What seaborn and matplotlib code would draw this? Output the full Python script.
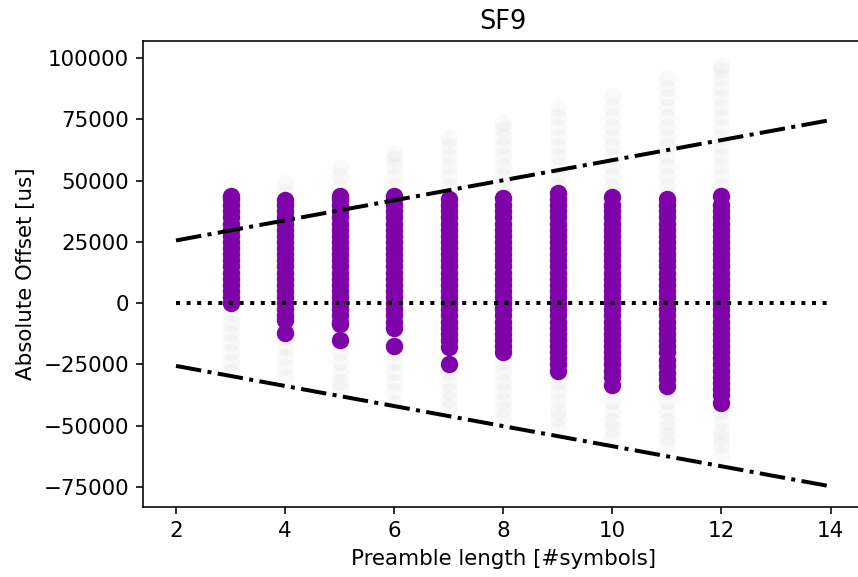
import pandas as pd
import matplotlib
matplotlib.use("Agg")
import matplotlib.pyplot as plt
import seaborn as sns

# preamble lengths with measurements
lengths = [3, 4, 5, 6, 7, 8, 9, 10, 11, 12]

# absolute offsets [us] of received packets (purple) per preamble length
ok_3 = [0, 2500, 5000, 7500, 10000, 12500, 15000, 17500, 20000, 22500, 25000, 27500, 30000, 32500,
        35000, 37500, 40000, 42500, 43800]
ok_4 = [-12100, -7000, -5000, -2500, 0, 2500, 5000, 7500, 10000, 12500, 15000, 17500, 20000, 22500,
        25000, 27500, 30000, 32500, 35000, 37500, 40000, 42100]
ok_5 = [-15200, -8300, -7500, -5000, -2500, 0, 2500, 5000, 7500, 10000, 12500, 15000, 17500, 20000,
        22500, 25000, 27500, 30000, 32500, 35000, 37500, 40000, 42500, 43800]
ok_6 = [-17400, -10300, -7500, -5000, -2500, 0, 2500, 5000, 7500, 10000, 12500, 15000, 17500, 20000,
        22500, 25000, 27500, 30000, 32500, 35000, 37500, 40000, 42500, 43800]
ok_7 = [-24900, -17800, -15000, -12500, -10000, -7500, -5000, -2500, 0, 2500, 5000, 7500, 10000,
        12500, 15000, 17500, 20000, 22500, 25000, 27500, 30000, 32500, 35000, 37500, 40000, 42500]
ok_8 = [-20100, -17500, -15000, -12500, -10000, -7500, -5000, -2500, 0, 2500, 5000, 7500, 10000,
        12500, 15000, 17500, 20000, 22500, 25000, 27500, 30000, 32500, 35000, 37500, 40000, 42900]
ok_9 = [-27700, -25000, -22500, -20000, -17500, -15000, -12500, -10000, -7500, -5000, -2500, 0, 2500,
        5000, 7500, 10000, 12500, 15000, 17500, 20000, 22500, 25000, 27500, 30000, 32500, 35000,
        37500, 40000, 42500, 45000]
ok_10 = [-33400, -30000, -27500, -25000, -22500, -20000, -17500, -15000, -12500, -10000, -7500, -5000,
         -2500, 0, 2500, 5000, 7500, 10000, 12500, 15000, 17500, 20000, 22500, 25000, 27500, 30000,
         32500, 35000, 37500, 40000, 43300]
ok_11 = [-33800, -31000, -28500, -25500, -23000, -20000, -17500, -15000, -12500, -10000, -7500, -5000,
         -2500, 0, 2500, 5000, 7500, 10000, 12500, 15000, 17500, 20000, 22500, 25000, 27500, 30000,
         32500, 35000, 37500, 40000, 42700]
ok_12 = [-40700, -37500, -35000, -32500, -30000, -27500, -25000, -22500, -20000, -17500, -15000,
         -12500, -10000, -7500, -5000, -2500, 0, 2500, 5000, 7500, 10000, 12500, 15000, 17500, 20000,
         22500, 25000, 27500, 30000, 32500, 35000, 37500, 40000, 43600]

# all transmitted offsets (grey background)
all_3 = [-28100, -24000, -20000, -16000, -12000, -8000, -4000, 0, 4000, 8000, 12000, 16000, 20000,
         24000, 28000, 32000, 36000, 40000, 43000]
all_4 = [-30100, -26000, -22000, -18000, -14000, -10000, -6000, -2000, 2000, 6000, 10000, 14000,
         18000, 22000, 26000, 30000, 34000, 38000, 42000, 45500, 49000]
all_5 = [-34800, -32000, -28000, -24000, -20000, -16000, -12000, -8000, -4000, 0, 4000, 8000, 12000,
         16000, 20000, 24000, 28000, 32000, 36000, 40000, 44000, 48000, 52000, 55200]
all_6 = [-40900, -36000, -32000, -28000, -24000, -20000, -16000, -12000, -8000, -4000, 0, 4000, 8000,
         12000, 16000, 20000, 24000, 28000, 32000, 36000, 40000, 44000, 48000, 52000, 56000, 59000,
         61300]
all_7 = [-42300, -39000, -36000, -32000, -28000, -24000, -20000, -16000, -12000, -8000, -4000, 0,
         4000, 8000, 12000, 16000, 20000, 24000, 28000, 32000, 36000, 40000, 44000, 48000, 52000,
         56000, 60000, 64000, 67400]
all_8 = [-46400, -43000, -40000, -36000, -32000, -28000, -24000, -20000, -16000, -12000, -8000,
         -4000, 0, 4000, 8000, 12000, 16000, 20000, 24000, 28000, 32000, 36000, 40000, 44000, 48000,
         52000, 56000, 60000, 64000, 68000, 71000, 73500]
all_9 = [-50400, -47000, -44000, -40000, -36000, -32000, -28000, -24000, -20000, -16000, -12000,
         -8000, -4000, 0, 4000, 8000, 12000, 16000, 20000, 24000, 28000, 32000, 36000, 40000, 44000,
         48000, 52000, 56000, 60000, 64000, 68000, 72000, 76000, 79600]
all_10 = [-54500, -51000, -48000, -44000, -40000, -36000, -32000, -28000, -24000, -20000, -16000,
          -12000, -8000, -4000, 0, 4000, 8000, 12000, 16000, 20000, 24000, 28000, 32000, 36000, 40000,
          44000, 48000, 52000, 56000, 60000, 64000, 68000, 72000, 76000, 80000, 84400]
all_11 = [-57300, -54000, -51000, -48000, -44000, -40000, -36000, -32000, -28000, -24000, -20000,
          -16000, -12000, -8000, -4000, 0, 4000, 8000, 12000, 16000, 20000, 24000, 28000, 32000,
          36000, 40000, 44000, 48000, 52000, 56000, 60000, 64000, 68000, 72000, 76000, 80000, 84000,
          88000, 91900]
all_12 = [-62000, -58000, -55000, -52000, -48000, -44000, -40000, -36000, -32000, -28000, -24000,
          -20000, -16000, -12000, -8000, -4000, 0, 4000, 8000, 12000, 16000, 20000, 24000, 28000,
          32000, 36000, 40000, 44000, 48000, 52000, 56000, 60000, 64000, 68000, 72000, 76000, 80000,
          84000, 88000, 92000, 95000, 97300]

ok_lists = [ok_3, ok_4, ok_5, ok_6, ok_7, ok_8, ok_9, ok_10, ok_11, ok_12]
all_lists = [all_3, all_4, all_5, all_6, all_7, all_8, all_9, all_10, all_11, all_12]

# bounds of the detection window (dash-dot) and zero line
bound_x = [2, 14]
bound_upper = [25600, 74750]
bound_lower = [-25600, -74750]
zero_y = [0, 0]


def to_frame(lists):
    rows = []
    for n, vals in zip(lengths, lists):
        for v in vals:
            rows.append({"preamble": n, "offset": v})
    return pd.DataFrame(rows)


df_ok = to_frame(ok_lists)
df_all = to_frame(all_lists)

plt.rcParams["font.size"] = 10.7
plt.rcParams["axes.titlesize"] = 12.8

fig = plt.figure(figsize=(858 / 144, 577 / 144), dpi=144)
ax = fig.add_axes([0.167, 0.1208, 0.8392, 0.809])

sns.scatterplot(data=df_all, x="preamble", y="offset", color="grey", alpha=0.045,
                s=76, linewidth=0, ax=ax)
sns.scatterplot(data=df_ok, x="preamble", y="offset", color="#7e03a8",
                s=76, linewidth=0, ax=ax)

sns.lineplot(x=bound_x, y=bound_upper, color="black", linestyle="-.", lw=2, ax=ax)
sns.lineplot(x=bound_x, y=bound_lower, color="black", linestyle="-.", lw=2, ax=ax)
sns.lineplot(x=bound_x, y=zero_y, color="black", linestyle=":", lw=2, ax=ax)

ax.set_xlim(1.4, 14.6)
ax.set_ylim(-83300, 107200)
ax.set_xticks([2, 4, 6, 8, 10, 12, 14])
ax.set_yticks([-75000, -50000, -25000, 0, 25000, 50000, 75000, 100000])
ax.set_title("SF9")
ax.set_xlabel("Preamble length [#symbols]")
ax.set_ylabel("Absolute Offset [us]")

fig.savefig("out.png", dpi=144)
